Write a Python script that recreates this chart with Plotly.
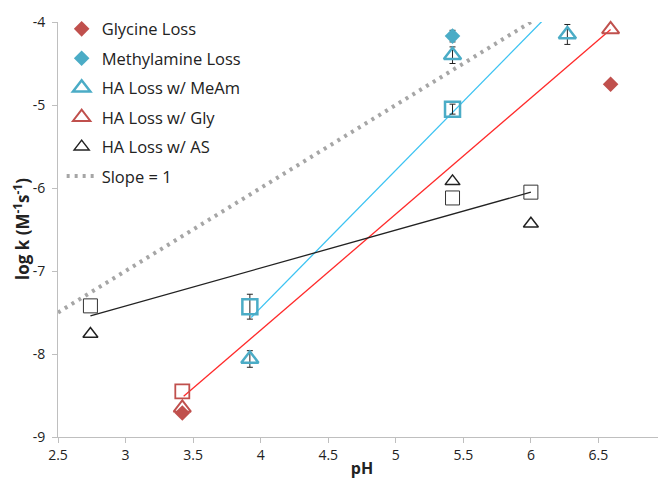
import plotly.graph_objects as go

# ---- data ----
gly_x = [3.42, 6.59]
gly_y = [-8.71, -4.75]

meam_x = [5.42]
meam_y = [-4.17]
meam_err = [0.07]

ha_meam_x = [3.92, 5.42, 6.27]
ha_meam_y = [-8.06, -4.40, -4.15]
ha_meam_err = [0.10, 0.10, 0.12]

ha_gly_x = [3.42, 6.59]
ha_gly_y = [-8.65, -4.09]

ha_as_x = [2.74, 5.42, 6.00]
ha_as_y = [-7.76, -5.92, -6.43]

sq_meam_x = [3.92, 5.42]
sq_meam_y = [-7.43, -5.05]
sq_meam_err = [0.15, 0.06]

sq_gly_x = [3.42]
sq_gly_y = [-8.45]

sq_as_x = [2.74, 5.42, 6.00]
sq_as_y = [-7.42, -6.12, -6.05]

fit_meam_x = [3.93, 6.27]
fit_meam_y = [-7.56, -3.68]
fit_gly_x = [3.43, 6.59]
fit_gly_y = [-8.51, -4.09]
fit_as_x = [2.74, 6.00]
fit_as_y = [-7.54, -6.05]

slope_x = [2.5, 6.0]
slope_y = [-7.5, -4.0]

x_ticks = [2.5, 3, 3.5, 4, 4.5, 5, 5.5, 6, 6.5, 7]
x_tick_labels = ["2.5", "3", "3.5", "4", "4.5", "5", "5.5", "6", "6.5", "7"]
y_ticks = [-9, -8, -7, -6, -5, -4]
y_tick_labels = ["-9", "-8", "-7", "-6", "-5", "-4"]

RED = "#C0504D"
CYAN = "#4BACC6"
CYAN_LINE = "#3CC3F2"
RED_LINE = "#FF2A2A"
FONT = "Open Sans"

fig = go.Figure()

# fit lines (no legend)
fig.add_trace(go.Scatter(x=fit_meam_x, y=fit_meam_y, mode="lines",
                         line=dict(color=CYAN_LINE, width=1.3), showlegend=False, hoverinfo="skip"))
fig.add_trace(go.Scatter(x=fit_gly_x, y=fit_gly_y, mode="lines",
                         line=dict(color=RED_LINE, width=1.3), showlegend=False, hoverinfo="skip"))
fig.add_trace(go.Scatter(x=fit_as_x, y=fit_as_y, mode="lines",
                         line=dict(color="#222222", width=1.3), showlegend=False, hoverinfo="skip"))

# squares (no legend)
fig.add_trace(go.Scatter(x=sq_meam_x, y=sq_meam_y, mode="markers",
                         marker=dict(symbol="square-open", size=15, color=CYAN, line=dict(width=2.5)),
                         error_y=dict(type="data", array=sq_meam_err, color="#222222", thickness=1, width=3),
                         showlegend=False, cliponaxis=False))
fig.add_trace(go.Scatter(x=sq_gly_x, y=sq_gly_y, mode="markers",
                         marker=dict(symbol="square-open", size=14, color=RED, line=dict(width=1.8)),
                         showlegend=False))
fig.add_trace(go.Scatter(x=sq_as_x, y=sq_as_y, mode="markers",
                         marker=dict(symbol="square-open", size=14, color="#333333", line=dict(width=1)),
                         showlegend=False))

# legend traces
fig.add_trace(go.Scatter(x=gly_x, y=gly_y, mode="markers", name="Glycine Loss", legendgroup="a",
                         marker=dict(symbol="diamond", size=12, color=RED)))
fig.add_trace(go.Scatter(x=meam_x, y=meam_y, mode="markers", name="Methylamine Loss", legendgroup="b",
                         marker=dict(symbol="diamond", size=12, color=CYAN),
                         error_y=dict(type="data", array=meam_err, color="#222222", thickness=1, width=3)))
fig.add_trace(go.Scatter(x=ha_meam_x, y=ha_meam_y, mode="markers", name="HA Loss w/ MeAm", legendgroup="c",
                         marker=dict(symbol="triangle-up-open", size=15, color=CYAN, line=dict(width=2.5)),
                         error_y=dict(type="data", array=ha_meam_err, color="#222222", thickness=1, width=3),
                         cliponaxis=False))
fig.add_trace(go.Scatter(x=ha_gly_x, y=ha_gly_y, mode="markers", name="HA Loss w/ Gly", legendgroup="d",
                         marker=dict(symbol="triangle-up-open", size=15, color=RED, line=dict(width=2)),
                         cliponaxis=False))
fig.add_trace(go.Scatter(x=ha_as_x, y=ha_as_y, mode="markers", name="HA Loss w/ AS", legendgroup="e",
                         marker=dict(symbol="triangle-up-open", size=13, color="#222222", line=dict(width=1.5))))
fig.add_trace(go.Scatter(x=slope_x, y=slope_y, mode="lines", name="Slope = 1", legendgroup="f",
                         line=dict(color="#A6A6A6", width=4, dash="3px,5px")))

fig.update_layout(
    width=666, height=480,
    margin=dict(l=50, r=4, t=7, b=51),
    paper_bgcolor="white", plot_bgcolor="white",
    font=dict(family=FONT, size=14, color="#222222"),
    legend=dict(x=0.006, y=1.025, xanchor="left", yanchor="top",
                bgcolor="rgba(0,0,0,0)", font=dict(size=16.5, color="#222222"),
                traceorder="grouped", tracegroupgap=5, itemwidth=30),
    xaxis=dict(range=[2.5, 7], tickvals=x_ticks, ticktext=x_tick_labels,
               showgrid=False, zeroline=False, showline=True, linecolor="#BFBFBF", linewidth=1,
               ticks="outside", ticklen=5, tickcolor="#BFBFBF", ticklabeloverflow="allow",
               title=dict(text="<b>pH</b>", font=dict(size=16), standoff=0)),
    yaxis=dict(range=[-9, -4], tickvals=y_ticks, ticktext=y_tick_labels,
               showgrid=False, zeroline=False, showline=True, linecolor="#BFBFBF", linewidth=1,
               ticks="outside", ticklen=5, tickcolor="#BFBFBF", ticklabeloverflow="allow",
               ticklabelstandoff=4),
    annotations=[dict(text="<b>log k (M<sup>-1</sup>s<sup>-1</sup>)</b>", xref="paper", yref="paper",
                      x=-0.06, y=0.5, xanchor="center", yanchor="middle", textangle=-90,
                      showarrow=False, font=dict(size=17, color="#222222"))],
)

fig.write_html("out.html")
